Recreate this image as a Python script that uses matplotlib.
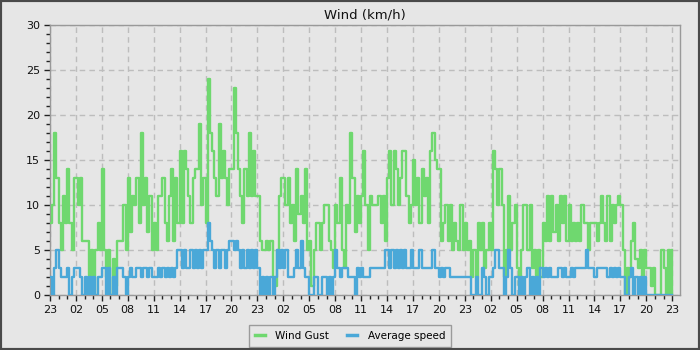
import matplotlib
matplotlib.use("Agg")
import matplotlib.pyplot as plt
import matplotlib.dates as mdates
from matplotlib.patches import Rectangle
import numpy as np
import pandas as pd

# ---- data (15-minute readings, km/h), starting 23:00 ----
start_time = "2024-01-01 23:00"
wind_gust = [
    8, 10, 18, 13,   8, 5, 11, 8,    14, 8, 5, 13,   13, 10, 13, 6,
    6, 6, 2, 5,      0, 5, 8, 5,     14, 5, 2, 5,    0, 4, 1, 6,
    6, 6, 10, 5,     13, 7, 11, 10,  13, 8, 18, 10,  13, 7, 11, 5,
    8, 5, 11, 11,    13, 8, 6, 11,   14, 6, 13, 8,   16, 8, 16, 14,
    11, 8, 13, 14,   14, 19, 10, 13, 8, 24, 18, 16,  13, 11, 19, 13,
    16, 13, 10, 14,  14, 23, 18, 14, 11, 8, 14, 11,  18, 11, 16, 11,
    11, 6, 5, 5,     6, 5, 6, 2,     1, 5, 11, 13,   13, 10, 13, 8,
    10, 6, 14, 9,    11, 8, 14, 5,   6, 1, 5, 8,     8, 5, 8, 10,
    10, 6, 5, 3,     10, 8, 13, 5,   3, 10, 8, 18,   13, 7, 11, 8,
    11, 16, 10, 5,   11, 10, 10, 10, 11, 8, 11, 6,   13, 16, 10, 16,
    14, 10, 13, 16,  16, 11, 8, 10,  15, 10, 13, 8,  14, 11, 13, 8,
    16, 18, 15, 14,  14, 6, 8, 10,   6, 10, 5, 8,    6, 5, 10, 5,
    8, 5, 6, 2,      5, 2, 8, 5,     8, 3, 5, 8,     5, 16, 14, 10,
    14, 10, 2, 5,    11, 5, 8, 10,   3, 1, 5, 10,    10, 5, 10, 3,
    5, 1, 5, 2,      8, 6, 11, 6,    11, 7, 10, 6,   11, 8, 11, 6,
    10, 6, 8, 6,     8, 6, 10, 8,    8, 5, 8, 8,     8, 6, 8, 11,
    8, 6, 11, 6,     10, 8, 10, 11,  10, 5, 0, 3,    2, 6, 8, 4,
    3, 5, 2, 5,      3, 3, 1, 3,     0, 0, 0, 5,     3, 0, 5, 0,
    5,
]
average_speed = [
    2, 0, 3, 5,   3, 2, 2, 2,   3, 0, 2, 3,   3, 3, 2, 0,
    2, 0, 2, 0,   2, 0, 2, 2,   3, 3, 0, 3,   0, 2, 0, 3,
    3, 3, 2, 0,   2, 3, 2, 2,   3, 3, 2, 3,   3, 2, 3, 2,
    2, 2, 3, 2,   3, 2, 3, 2,   3, 2, 3, 5,   5, 3, 5, 3,
    3, 5, 3, 5,   3, 5, 3, 5,   5, 8, 6, 5,   3, 5, 3, 5,
    5, 3, 5, 6,   6, 5, 6, 5,   3, 5, 3, 5,   3, 5, 3, 5,
    3, 0, 2, 0,   2, 0, 2, 0,   2, 5, 3, 5,   3, 5, 2, 2,
    2, 3, 5, 3,   6, 3, 2, 2,   0, 0, 2, 2,   0, 0, 2, 2,
    0, 2, 0, 2,   5, 3, 2, 3,   3, 3, 2, 2,   2, 0, 3, 2,
    3, 2, 2, 2,   3, 3, 3, 3,   3, 3, 3, 5,   5, 3, 5, 3,
    5, 3, 5, 3,   5, 3, 3, 5,   3, 3, 3, 5,   3, 3, 3, 3,
    3, 5, 3, 3,   2, 3, 2, 3,   3, 2, 2, 2,   2, 2, 2, 2,
    2, 2, 2, 0,   0, 2, 0, 0,   3, 2, 0, 2,   2, 3, 5, 5,
    3, 3, 0, 2,   5, 3, 0, 2,   2, 0, 2, 0,   2, 3, 0, 2,
    0, 2, 0, 3,   2, 3, 2, 3,   2, 2, 2, 3,   3, 2, 3, 2,
    2, 3, 2, 3,   3, 3, 3, 3,   5, 3, 3, 3,   2, 3, 3, 3,
    3, 3, 2, 3,   2, 3, 2, 3,   2, 2, 0, 0,   2, 3, 0, 2,
    0, 2, 0, 2,   0, 0, 0, 0,   0, 0, 0, 0,   0, 0, 0, 0,
    0,
]
title = "Wind (km/h)"
series_names = ["Wind Gust", "Average speed"]

times = pd.date_range(start_time, periods=len(wind_gust), freq="15min")

BG = "#e6e6e6"
GREEN = "#6fd86f"
BLUE = "#4aa8d8"

fig = plt.figure(figsize=(7, 3.5), dpi=100, facecolor=BG)
ax = fig.add_axes([50 / 700, 1 - 295 / 350, 630 / 700, 270 / 350])
ax.set_facecolor(BG)

ax.plot(times, wind_gust, drawstyle="steps-post", color=GREEN, lw=1.7,
        label=series_names[0], zorder=3)
ax.plot(times, average_speed, drawstyle="steps-post", color=BLUE, lw=1.7,
        label=series_names[1], zorder=4)

t0 = pd.Timestamp(start_time)
ax.set_xlim(t0, t0 + pd.Timedelta(hours=72.9))
ax.set_ylim(0, 30)

ax.xaxis.set_major_locator(mdates.HourLocator(byhour=range(2, 24, 3)))
ax.xaxis.set_minor_locator(mdates.HourLocator())
ax.xaxis.set_major_formatter(mdates.DateFormatter("%H"))
ax.yaxis.set_major_locator(plt.MultipleLocator(5))
ax.yaxis.set_minor_locator(plt.MultipleLocator(1))

ax.grid(True, which="major", color="#bdbdbd", linestyle=(0, (4, 3)), lw=1)
ax.set_axisbelow(True)
for s in ax.spines.values():
    s.set_color("#999999")
    s.set_linewidth(1)
ax.tick_params(axis="both", which="major", length=4, width=1, color="#222222",
               labelsize=8, labelcolor="#111111", pad=3)
ax.tick_params(axis="both", which="minor", length=3, width=1, color="#222222")

ax.set_title(title, fontsize=9.5, color="#111111", pad=5)

leg = fig.legend(loc="center", bbox_to_anchor=(350 / 700, 1 - 336 / 350), ncol=2,
                 frameon=True, fancybox=False, fontsize=7.5, handlelength=1.0,
                 handletextpad=1.0, columnspacing=1.7, borderpad=0.55)
leg.get_frame().set_facecolor(BG)
leg.get_frame().set_edgecolor("#888888")
leg.get_frame().set_linewidth(1)
for h in leg.get_lines():
    h.set_linewidth(2.5)

fig.patches.append(Rectangle((0, 0), 1, 1, transform=fig.transFigure,
                             fill=False, edgecolor="#4a4a4a", lw=3, zorder=10))

fig.savefig("out.png", dpi=100, facecolor=BG)
